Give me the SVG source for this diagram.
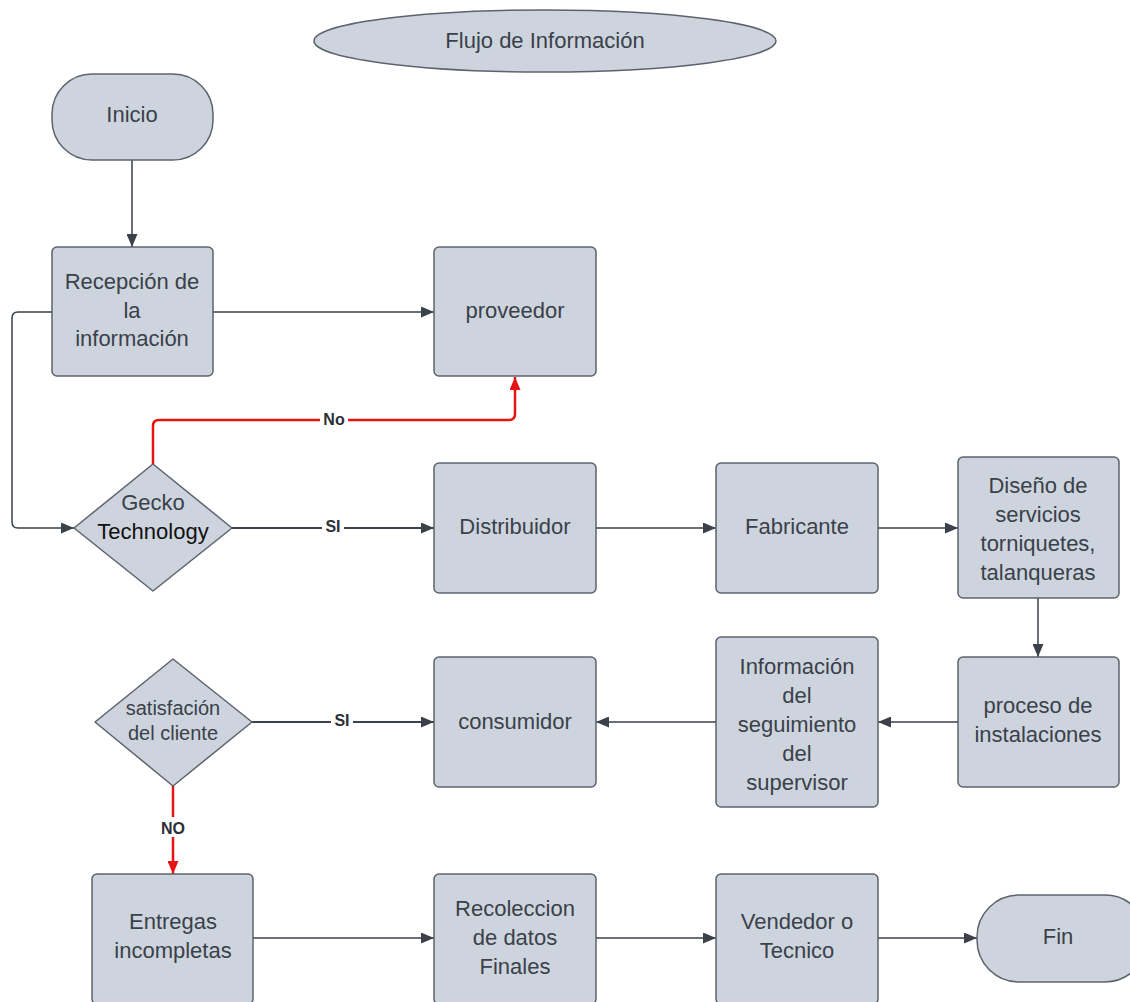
<svg xmlns="http://www.w3.org/2000/svg" width="1130" height="1002" viewBox="0 0 1130 1002">
<defs>
<marker id="ah" viewBox="0 0 13 11" refX="13" refY="5.5" markerWidth="13" markerHeight="11" markerUnits="userSpaceOnUse" orient="auto"><path d="M0,0 L13,5.5 L0,11 Z" fill="#3a414a"/></marker>
<marker id="ahr" viewBox="0 0 13 11" refX="13" refY="5.5" markerWidth="13" markerHeight="11" markerUnits="userSpaceOnUse" orient="auto"><path d="M0,0 L13,5.5 L0,11 Z" fill="#e81313"/></marker>
</defs>
<style>
.n{fill:#ced4dd;stroke:#5d636c;stroke-width:1.5}
.t{font-family:"Liberation Sans",Arial,sans-serif;font-size:22px;fill:#3a414a;text-anchor:middle}
.c{fill:none;stroke:#3a414a;stroke-width:1.5;marker-end:url(#ah)}
.r{fill:none;stroke:#e81313;stroke-width:2.5;marker-end:url(#ahr)}
.l{font-family:"Liberation Sans",Arial,sans-serif;font-size:16px;font-weight:bold;fill:#2b2f36;text-anchor:middle}
.lb{fill:#ffffff}
</style>
<rect width="1130" height="1002" fill="#ffffff"/>
<g id="connectors">
<path class="c" d="M132,160 V247"/>
<path class="c" d="M213,312 H434"/>
<path class="c" d="M52,312 H18 Q12,312 12,318 V522 Q12,528 18,528 H74"/>
<path class="r" d="M153,464 V426 Q153,420 159,420 H509 Q515,420 515,414 V377"/>
<path class="c" d="M232,528 H434" style="stroke-width:2"/>
<path class="c" d="M596,528 H716"/>
<path class="c" d="M878,528 H958"/>
<path class="c" d="M1038,598 V657"/>
<path class="c" d="M958,722 H878"/>
<path class="c" d="M716,722 H596"/>
<path class="c" d="M252,722 H434" style="stroke-width:2"/>
<path class="r" d="M173,786 V874"/>
<path class="c" d="M253,938 H434"/>
<path class="c" d="M596,938 H716"/>
<path class="c" d="M878,938 H977"/>
<rect class="lb" x="320" y="410" width="28" height="18"/>
<text class="l" x="334" y="425">No</text>
<rect class="lb" x="322" y="517" width="22" height="18"/>
<text class="l" x="333" y="532">SI</text>
<rect class="lb" x="331" y="711" width="22" height="18"/>
<text class="l" x="342" y="726">SI</text>
<rect class="lb" x="157" y="817" width="32" height="20"/>
<text class="l" x="173" y="834">NO</text>
</g>
<g id="title"><ellipse class="n" cx="545" cy="41" rx="231" ry="31"/><text class="t" x="545" y="48">Flujo de Información</text></g>
<g id="inicio"><rect class="n" x="52" y="74" width="161" height="86" rx="40"/><text class="t" x="132" y="122">Inicio</text></g>
<g id="recepcion"><rect class="n" x="52" y="247" width="161" height="129" rx="5"/><text class="t" x="132" y="289">Recepción de</text><text class="t" x="132" y="318">la</text><text class="t" x="132" y="346">información</text></g>
<g id="proveedor"><rect class="n" x="434" y="247" width="162" height="129" rx="5"/><text class="t" x="515" y="318">proveedor</text></g>
<g id="gecko"><path class="n" d="M153,464 L232,528 L153,591 L74,528 Z" stroke-linejoin="round"/><text class="t" x="153" y="510">Gecko</text><text class="t" x="153" y="539" style="fill:#111">Technology</text></g>
<g id="distribuidor"><rect class="n" x="434" y="463" width="162" height="130" rx="5"/><text class="t" x="515" y="534">Distribuidor</text></g>
<g id="fabricante"><rect class="n" x="716" y="463" width="162" height="130" rx="5"/><text class="t" x="797" y="534">Fabricante</text></g>
<g id="diseno"><rect class="n" x="958" y="457" width="161" height="141" rx="5"/><text class="t" x="1038" y="493">Diseño de</text><text class="t" x="1038" y="522">servicios</text><text class="t" x="1038" y="551">torniquetes,</text><text class="t" x="1038" y="580">talanqueras</text></g>
<g id="proceso"><rect class="n" x="958" y="657" width="161" height="130" rx="5"/><text class="t" x="1038" y="713">proceso de</text><text class="t" x="1038" y="742">instalaciones</text></g>
<g id="informacion"><rect class="n" x="716" y="637" width="162" height="170" rx="5"/><text class="t" x="797" y="674">Información</text><text class="t" x="797" y="703">del</text><text class="t" x="797" y="732">seguimiento</text><text class="t" x="797" y="761">del</text><text class="t" x="797" y="790">supervisor</text></g>
<g id="consumidor"><rect class="n" x="434" y="657" width="162" height="130" rx="5"/><text class="t" x="515" y="729">consumidor</text></g>
<g id="satisfacion"><path class="n" d="M173,659 L252,722 L173,786 L95,722 Z" stroke-linejoin="round"/><text class="t" x="173" y="715" style="font-size:20px">satisfación</text><text class="t" x="173" y="740" style="font-size:20px">del cliente</text></g>
<g id="entregas"><rect class="n" x="92" y="874" width="161" height="130" rx="5"/><text class="t" x="173" y="929">Entregas</text><text class="t" x="173" y="958">incompletas</text></g>
<g id="recoleccion"><rect class="n" x="434" y="874" width="162" height="130" rx="5"/><text class="t" x="515" y="916">Recoleccion</text><text class="t" x="515" y="945">de datos</text><text class="t" x="515" y="974">Finales</text></g>
<g id="vendedor"><rect class="n" x="716" y="874" width="162" height="130" rx="5"/><text class="t" x="797" y="929">Vendedor o</text><text class="t" x="797" y="958">Tecnico</text></g>
<g id="fin"><rect class="n" x="977" y="895" width="170" height="87" rx="42"/><text class="t" x="1058" y="944">Fin</text></g>
</svg>
